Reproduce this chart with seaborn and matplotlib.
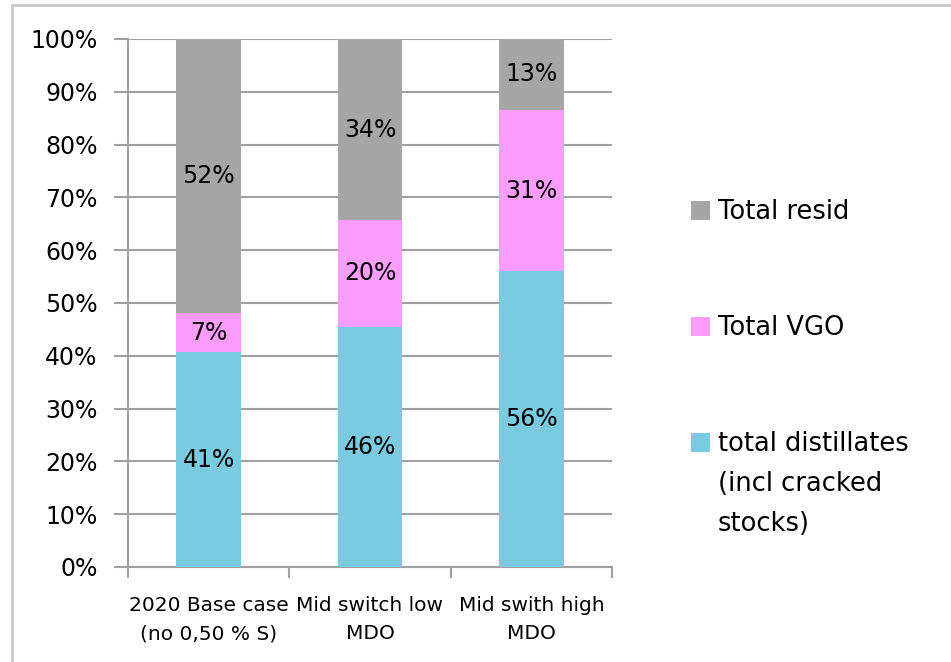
import numpy as np
import pandas as pd
import matplotlib
matplotlib.use('Agg')
import matplotlib.pyplot as plt
import seaborn as sns
from matplotlib.patches import Rectangle
from matplotlib.lines import Line2D

cases = ['2020 Base case\n(no 0,50 % S)', 'Mid switch low\nMDO', 'Mid swith high\nMDO']
distillates = [40.7, 45.5, 56.0]
vgo = [7.4, 20.2, 30.6]
resid = [51.9, 34.3, 13.4]
series_names = ['Total resid', 'Total VGO', 'total distillates\n(incl cracked\nstocks)']
colors = {'resid': '#A6A6A6', 'vgo': '#FF9CFF', 'dist': '#7BCBE0'}

sns.set_style('white')
plt.rcParams['font.family'] = ['DejaVu Sans']
plt.rcParams['text.color'] = 'black'
plt.rcParams['xtick.color'] = 'black'
plt.rcParams['ytick.color'] = 'black'

df = pd.DataFrame({'case': cases, 'dist': distillates, 'vgo': vgo, 'resid': resid})
df['vgo_top'] = df['dist'] + df['vgo']
df['resid_top'] = df['vgo_top'] + df['resid']

fig = plt.figure(figsize=(9.51, 6.62), dpi=100)
ax = fig.add_axes([128 / 951, 1 - 567 / 662, (612 - 128) / 951, (567 - 39) / 662])

# stacked bars: draw cumulative tops from highest to lowest
for col, key in [('resid_top', 'resid'), ('vgo_top', 'vgo'), ('dist', 'dist')]:
    sns.barplot(data=df, x='case', y=col, color=colors[key], width=0.4,
                saturation=1, ax=ax, zorder=3, linewidth=0, edgecolor='none')

# segment labels
for i, row in df.iterrows():
    segs = [(0, row['dist']), (row['dist'], row['vgo_top']), (row['vgo_top'], row['resid_top'])]
    for lo, hi in segs:
        ax.text(i, (lo + hi) / 2, f'{round(hi - lo):.0f}%', ha='center', va='center',
                fontsize=17, color='black', zorder=4)

ax.set_ylim(0, 100)
ax.set_xlim(-0.5, 2.5)
ax.set_yticks(np.arange(0, 101, 10))
ax.set_yticklabels([f'{v}%' for v in range(0, 101, 10)], fontsize=17)
ax.set_xticks(range(len(cases)))
ax.set_xticklabels(cases, fontsize=14.5, linespacing=1.6)
ax.set_xlabel('')
ax.set_ylabel('')

ax.yaxis.grid(True, color='#A0A0A0', linewidth=1.5, zorder=0)
ax.set_axisbelow(True)
for s in ['top', 'right']:
    ax.spines[s].set_visible(False)
for s in ['left', 'bottom']:
    ax.spines[s].set_color('#A0A0A0')
    ax.spines[s].set_linewidth(1.5)

ax.tick_params(axis='y', length=10, width=1.5, color='#A0A0A0', pad=12, left=True)
ax.tick_params(axis='x', length=0, pad=21)
# x ticks at category boundaries
ax.set_xticks([-0.5, 0.5, 1.5, 2.5], minor=True)
ax.tick_params(axis='x', which='minor', length=8, width=1.5, color='#A0A0A0', bottom=True)

# legend drawn on the figure
leg_y = [211, 327, 443]
leg_cols = [colors['resid'], colors['vgo'], colors['dist']]
for name, col, yp in zip(series_names, leg_cols, leg_y):
    fig.patches.append(Rectangle((691 / 951, 1 - (yp + 9) / 662), 19 / 951, 19 / 662,
                                 transform=fig.transFigure, facecolor=col, edgecolor='none'))
    fig.text(718 / 951, 1 - (yp - 12) / 662, name, ha='left', va='top', fontsize=18.5,
             linespacing=1.7)

# outer chart border (cut at right and bottom)
fig.lines.append(Line2D([12 / 951, 1], [1 - 5 / 662, 1 - 5 / 662], transform=fig.transFigure,
                        color='#C8C8C8', linewidth=2))
fig.lines.append(Line2D([12 / 951, 12 / 951], [0, 1 - 5 / 662], transform=fig.transFigure,
                        color='#C8C8C8', linewidth=2))

fig.savefig('out.png', dpi=100)
